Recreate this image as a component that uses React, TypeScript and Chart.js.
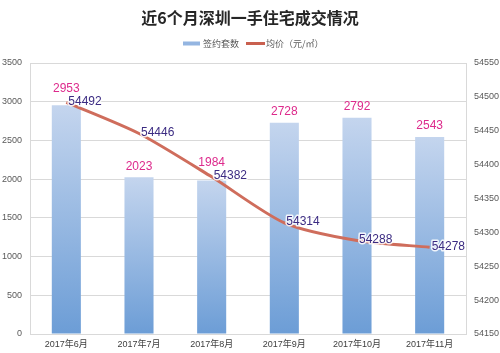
import React, { useEffect, useRef } from "react";
import { Chart, registerables } from "chart.js";

Chart.register(...registerables);

const categories = ["2017年6月", "2017年7月", "2017年8月", "2017年9月", "2017年10月", "2017年11月"];
const contracts = [2953, 2023, 1984, 2728, 2792, 2543];
const avgPrice = [54492, 54446, 54382, 54314, 54288, 54278];
const titleText = "近6个月深圳一手住宅成交情况";
const legendBar = "签约套数";
const legendLine = "均价（元/㎡）";

const FONT = '"Liberation Sans", "Noto Sans CJK SC", sans-serif';
const CJK = '"Noto Sans CJK SC", sans-serif';

const decorPlugin = {
  id: "decor",
  afterDraw(chart: any) {
    const c = chart.ctx;
    c.save();
    c.fillStyle = "#262626";
    c.font = `bold 16px ${CJK}`;
    c.textAlign = "center";
    c.textBaseline = "middle";
    c.fillText(titleText, 250, 18);
    // legend
    c.fillStyle = "#94b5e1";
    c.fillRect(183, 41.5, 17, 4);
    c.font = `9px ${CJK}`;
    c.fillStyle = "#595959";
    c.textAlign = "left";
    c.fillText(legendBar, 203, 44);
    c.strokeStyle = "#c9604f";
    c.lineWidth = 3;
    c.beginPath();
    c.moveTo(246, 43.5);
    c.lineTo(265, 43.5);
    c.stroke();
    c.fillStyle = "#595959";
    c.fillText(legendLine, 266, 44);
    c.restore();
  },
  afterDatasetsDraw(chart: any) {
    const c = chart.ctx;
    c.save();
    c.font = `12px ${FONT}`;
    c.lineJoin = "round";
    const lineMeta = chart.getDatasetMeta(1);
    const barMeta = chart.getDatasetMeta(0);
    barMeta.data.forEach((el: any, i: number) => {
      c.textAlign = "center";
      c.textBaseline = "middle";
      let cy = el.y - 11;
      // lift label clear of the price line when they would overlap
      const ly = lineMeta.data[i].y;
      if (Math.abs(cy - ly) < 12) cy = Math.min(cy, ly - 14);
      c.fillStyle = "#dd2a8c";
      c.fillText(String(contracts[i]), el.x, cy);
    });
    lineMeta.data.forEach((el: any, i: number) => {
      c.textAlign = "left";
      c.textBaseline = "middle";
      c.strokeStyle = "rgba(255,255,255,0.85)";
      c.lineWidth = 3;
      c.strokeText(String(avgPrice[i]), el.x + 2, el.y - 1);
      c.fillStyle = "#3b2b82";
      c.fillText(String(avgPrice[i]), el.x + 2, el.y - 1);
    });
    c.restore();
  },
};

export default function App() {
  const ref = useRef<HTMLCanvasElement>(null);
  useEffect(() => {
    if (!ref.current) return;
    const chart = new Chart(ref.current, {
      type: "bar",
      data: {
        labels: categories,
        datasets: [
          {
            type: "bar",
            label: legendBar,
            data: contracts,
            yAxisID: "y",
            order: 2,
            barPercentage: 0.4,
            categoryPercentage: 1,
            backgroundColor: (ctx: any) => {
              const chart = ctx.chart;
              if (!chart.chartArea || ctx.raw == null) return "#8fb2e0";
              const ys = chart.scales.y;
              const top = ys.getPixelForValue(ctx.raw);
              const bottom = ys.getPixelForValue(0);
              const g = chart.ctx.createLinearGradient(0, top, 0, bottom);
              g.addColorStop(0, "#c4d5ee");
              g.addColorStop(1, "#6c9dd6");
              return g;
            },
          },
          {
            type: "line",
            label: legendLine,
            data: avgPrice,
            yAxisID: "y1",
            order: 1,
            borderColor: "#cf6d5c",
            borderWidth: 3,
            pointRadius: 0,
            tension: 0.25,
            fill: false,
          },
        ] as any,
      },
      options: {
        animation: false,
        responsive: false,
        layout: { padding: { top: 63, left: 0, right: 0, bottom: 0 } },
        plugins: { legend: { display: false }, title: { display: false }, tooltip: { enabled: false } },
        scales: {
          x: {
            grid: { display: false, drawTicks: false },
            border: { display: true, color: "#d9d9d9" },
            ticks: { font: { size: 9, family: FONT }, color: "#404040", padding: 5, maxRotation: 0 },
            afterFit: (s: any) => { s.height = 19; },
          },
          y: {
            position: "left",
            min: 0,
            max: 3500,
            ticks: {
              stepSize: 500,
              font: { size: 9, family: FONT },
              color: "#595959",
              padding: 8,
              callback: (v: any) => String(v),
            },
            grid: { color: "#d9d9d9", drawTicks: false },
            border: { display: true, color: "#d9d9d9" },
            afterFit: (s: any) => { s.width = 30; },
          },
          y1: {
            position: "right",
            min: 54150,
            max: 54550,
            ticks: {
              stepSize: 50,
              font: { size: 9, family: FONT },
              color: "#595959",
              padding: 8,
              callback: (v: any) => String(v),
            },
            grid: { display: false, drawTicks: false },
            border: { display: true, color: "#d9d9d9" },
            afterFit: (s: any) => { s.width = 34; },
          },
        },
      } as any,
      plugins: [decorPlugin],
    });
    return () => chart.destroy();
  }, []);
  return (
    <div style={{ position: "fixed", left: 0, top: 0, width: 500, height: 353, background: "#fff" }}>
      <canvas ref={ref} width={500} height={353} />
    </div>
  );
}
